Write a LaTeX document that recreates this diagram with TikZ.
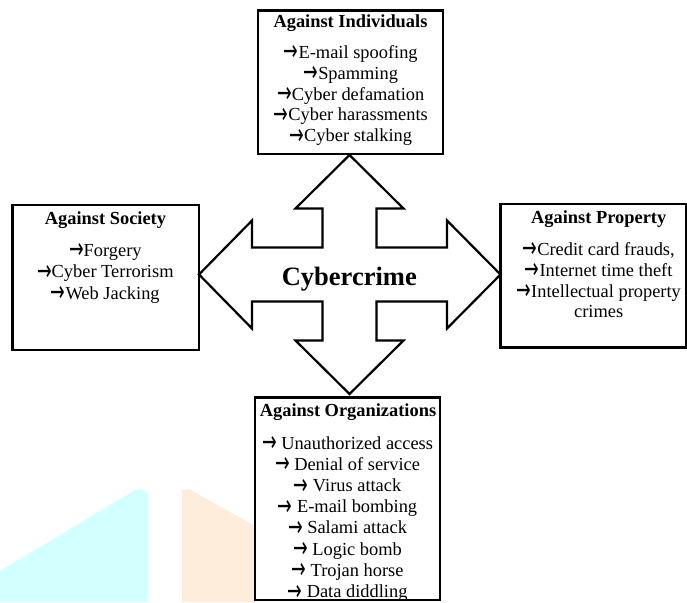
\documentclass[tikz,border=0pt]{standalone}
\usepackage{graphicx}
\usepackage{fontspec}
\setmainfont{Liberation Serif}
\newfontfamily\arrfont{DejaVu Sans}
\newcommand{\ar}{{\arrfont\smash{\raisebox{-2.6pt}{\scalebox{0.95}[1.55]{→}}}}}
\definecolor{wmcyan}{HTML}{D2FFFF}
\definecolor{wmorange}{HTML}{FFEDDB}
\begin{document}
\begin{tikzpicture}[x=1pt,y=-1pt,
  box/.style={draw=black,line width=2.6pt,fill=white,inner sep=0pt,outer sep=0pt},
  ttl/.style={anchor=base,inner sep=0pt,font=\fontsize{18.4}{21}\selectfont\bfseries},
  itm/.style={anchor=base,inner sep=0pt,font=\fontsize{18.4}{21}\selectfont},
  crossline/.style={draw=black,line width=2.2pt,fill=white,line join=miter}]
\useasboundingbox (0,0) rectangle (687,602);
% watermark shapes
\fill[wmcyan] (0,571) -- (135,490) -- (142,489) -- (145,491) -- (148,495) -- (148,602) -- (0,602) -- cycle;
\fill[wmorange] (182,602) -- (182,490) -- (189,489) -- (255,526) -- (255,602) -- cycle;
% boxes
\node[box,minimum width=185pt,minimum height=143.5pt] (ind) at (350.5,82.25) {};
\node[box,minimum width=186.5pt,minimum height=145pt] (soc) at (105.75,277.5) {};
\node[box,minimum width=185.3pt,minimum height=143.5pt] (prop) at (593.15,275.75) {};
\node[box,minimum width=185pt,minimum height=202.5pt] (org) at (347.5,498.75) {};
% cross arrow
\path[crossline] (349.5,155) -- (403.5,208.5) -- (376.5,208.5) -- (376.5,247.5)
  -- (447,247.5) -- (447,220.5) -- (500.5,274.5) -- (447,328.5) -- (447,301.5)
  -- (376.5,301.5) -- (376.5,340.5) -- (403.5,340.5) -- (349.5,394)
  -- (295.5,340.5) -- (322.5,340.5) -- (322.5,301.5) -- (252,301.5)
  -- (252,328.5) -- (199,274.5) -- (252,220.5) -- (252,247.5)
  -- (322.5,247.5) -- (322.5,208.5) -- (295.5,208.5) -- cycle;
\node[anchor=base,inner sep=0pt,font=\fontsize{26.5}{30}\selectfont\bfseries] (cc) at (349.3,285) {Cybercrime};
% Against Individuals
\node[ttl] (indt) at (350.5,27.3) {Against Individuals};
\foreach \t [count=\i] in {E-mail spoofing,Spamming,Cyber defamation,Cyber harassments,Cyber stalking}
  \node[itm] (ind\i) at (350.8,58.3+20.85*\i-20.85) {\ar\t};
% Against Society
\node[ttl] (soct) at (105.5,224.3) {Against Society};
\foreach \t [count=\i] in {Forgery,Cyber Terrorism,Web Jacking}
  \node[itm] (soc\i) at (105.3,256+21.5*\i-21.5) {\ar\t};
% Against Property
\node[ttl] (propt) at (598.7,223.3) {Against Property};
\node[itm] (prop1) at (598.7,255) {\ar Credit card frauds,};
\node[itm] (prop2) at (598.7,276) {\ar Internet time theft};
\node[itm] (prop3) at (598.7,297.3) {\ar Intellectual property};
\node[itm] (prop4) at (598.7,317.7) {crimes};
% Against Organizations
\node[ttl] (orgt) at (348,416.7) {Against Organizations};
\foreach \t [count=\i] in {Unauthorized access,Denial of service,Virus attack,E-mail bombing,Salami attack,Logic bomb,Trojan horse,Data diddling}
  \node[itm] (org\i) at (347.5,449+21.2*\i-21.2) {\ar{} \t};
\draw[line width=2.6pt] (org.south west) -- (org.south east);
\end{tikzpicture}
\end{document}
